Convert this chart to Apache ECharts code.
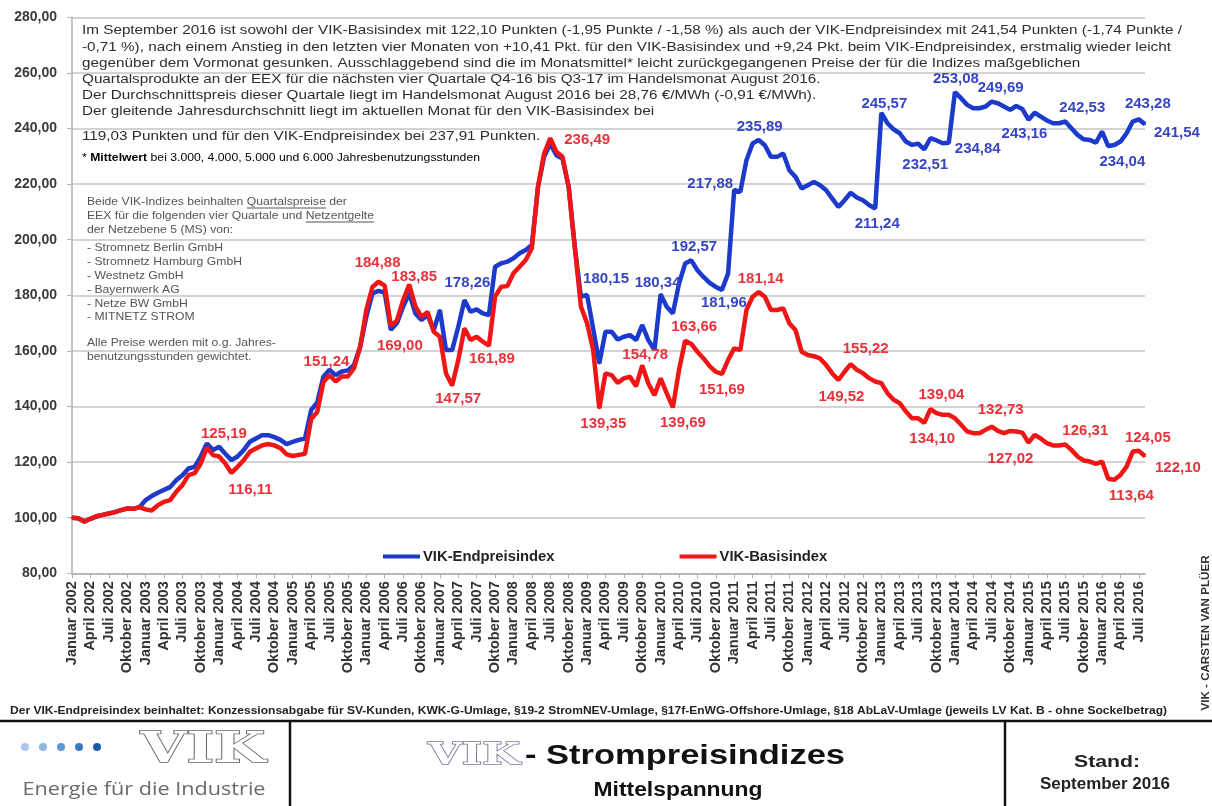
<!DOCTYPE html>
<html>
<head>
<meta charset="utf-8">
<script src="https://cdn.jsdelivr.net/npm/echarts@6/dist/echarts.min.js"></script>
<style>
html,body{margin:0;padding:0;background:#fff;}
#chart{width:1212px;height:806px;}
</style>
</head>
<body>
<div id="chart"></div>
<script>
// ---------- DATA ----------
const monthNames = ['Januar','Februar','März','April','Mai','Juni','Juli','August','September','Oktober','November','Dezember'];
const startYear = 2002;

const endpreisindex = [
100.0, 99.8, 98.6, 99.6, 100.5, 101.0, 101.5, 102.0, 102.7, 103.3, 103.2, 103.8,
106.3, 107.8, 109.0, 110.0, 111.0, 113.5, 115.3, 117.7, 118.3, 122.0, 126.7, 124.3,
125.5, 123.0, 120.7, 122.0, 124.3, 127.3, 128.5, 129.7, 129.7, 129.0, 128.0, 126.5,
127.3, 128.0, 128.5, 138.7, 141.5, 150.7, 153.2, 151.3, 152.6, 153.0, 155.0, 161.5,
172.3, 180.7, 181.6, 181.0, 167.6, 170.0, 175.9, 180.7, 173.5, 171.1, 172.9, 167.5,
174.7, 160.3, 160.3, 168.7, 178.26, 174.1, 174.9, 173.5, 172.9, 190.3, 191.5, 192.1,
193.3, 195.1, 196.3, 198.1, 219.0, 229.8, 234.6, 230.4, 229.2, 219.0, 197.5, 179.5,
180.15, 168.0, 155.5, 166.9, 166.9, 164.1, 165.1, 165.7, 163.9, 169.3, 163.9, 160.3,
180.34, 175.9, 173.5, 184.2, 191.4, 192.57, 189.0, 186.6, 184.5, 183.0, 181.96, 187.8,
217.88, 217.2, 228.6, 234.6, 235.89, 234.0, 229.8, 229.8, 231.0, 225.0, 222.6, 218.4,
219.6, 220.8, 219.6, 217.8, 214.8, 211.8, 214.2, 216.9, 215.2, 214.2, 212.5, 211.24,
245.57, 241.9, 239.7, 238.3, 235.3, 234.1, 234.5, 232.51, 236.5, 235.7, 234.7, 234.84,
253.08, 250.9, 248.5, 247.3, 247.3, 247.9, 249.69, 249.1, 247.9, 246.7, 248.1, 247.0,
243.16, 245.7, 244.3, 242.9, 241.9, 241.9, 242.53, 240.1, 237.7, 236.1, 235.9, 234.9,
238.9, 233.7, 234.04, 235.3, 238.3, 242.5, 243.28, 241.54
];

const basisindex = [
100.0, 99.8, 98.6, 99.6, 100.5, 101.0, 101.5, 102.0, 102.7, 103.3, 103.2, 103.8,
103.0, 102.6, 104.5, 105.7, 106.3, 109.3, 111.7, 115.3, 116.0, 119.5, 125.19, 122.5,
122.0, 119.5, 116.11, 118.3, 120.7, 123.7, 124.9, 126.0, 126.5, 126.0, 125.0, 122.8,
122.2, 122.6, 123.0, 135.5, 138.0, 148.8, 151.24, 149.0, 150.8, 150.8, 153.8, 161.5,
174.7, 183.0, 184.88, 183.5, 169.0, 171.0, 178.3, 183.85, 176.0, 172.3, 174.0, 166.9,
165.1, 151.9, 147.57, 156.7, 168.1, 163.9, 165.1, 163.3, 161.89, 179.5, 183.1, 183.3,
187.9, 190.3, 192.7, 196.9, 219.0, 231.0, 236.49, 231.6, 229.8, 219.0, 197.5, 176.0,
170.0, 160.3, 139.35, 151.9, 151.3, 148.5, 150.1, 150.7, 147.3, 154.78, 148.3, 144.1,
150.1, 144.7, 139.69, 153.1, 163.66, 162.5, 159.7, 157.3, 154.5, 152.5, 151.69, 156.7,
160.9, 160.3, 174.7, 179.5, 181.14, 179.5, 174.7, 174.7, 175.3, 169.9, 167.5, 159.7,
158.5, 158.1, 157.3, 154.9, 151.9, 149.52, 152.5, 155.22, 153.2, 152.0, 150.2, 149.0,
148.4, 144.8, 142.4, 141.2, 138.2, 135.8, 135.8, 134.10, 139.04, 137.6, 137.0, 137.0,
135.8, 133.4, 131.0, 130.4, 130.4, 131.6, 132.73, 131.2, 130.4, 131.2, 131.0, 130.6,
127.02, 129.8, 128.5, 126.8, 126.0, 126.0, 126.31, 124.4, 122.0, 120.6, 120.2, 119.4,
120.2, 114.0, 113.64, 115.4, 118.4, 123.8, 124.05, 122.10
];

const categories = endpreisindex.map((_, i) => monthNames[i % 12] + ' ' + (startYear + Math.floor(i / 12)));

const yMin = 80, yMax = 280, yStep = 20;

// labelled points: [index, position, dx, dy]
const endLabelSpec = [
  [64,'top',3,-4],[84,'top',19,-3],[96,'top',-3,2],[101,'top',3,0],[106,'bottom',2,0],
  [108,'left',5,-6],[112,'top',1,0],[131,'bottom',2,2],[132,'top',3,4],[139,'bottom',1,2],
  [143,'right',0,6],[144,'top',1,0],[150,'top',9,0],[156,'bottom',-4,1],[162,'top',17,0],
  [170,'bottom',8,3],[174,'top',9,-2],[175,'right',3,9]
];
const basisLabelSpec = [
  [22,'top',17,0],[26,'bottom',19,3],[42,'top',-3,0],[50,'top',-1,-5],[52,'bottom',9,6],
  [55,'top',5,6],[62,'bottom',6,0],[68,'bottom',3,0],[78,'right',8,2],[86,'bottom',4,2],
  [93,'top',3,3],[98,'bottom',10,2],[100,'top',9,0],[106,'bottom',0,2],[112,'top',2,0],
  [125,'bottom',3,3],[127,'top',15,-2],[139,'bottom',8,2],[140,'top',11,-1],[150,'top',9,-3],
  [156,'bottom',-18,3],[162,'top',20,0],[170,'bottom',17,3],[174,'top',9,1],[175,'right',4,12]
];

// ---------- STYLE ----------
const FONT = '"Liberation Sans", Arial, Helvetica, sans-serif';
const BLUE = '#1c3acb';
const RED = '#f01616';
const BLUE_LBL = '#3646c2';
const RED_LBL = '#e8323a';

const fmt = v => Number(v).toFixed(2).replace('.', ',');

const mctx = document.createElement('canvas').getContext('2d');
function textW(text, weight, size, family) {
  mctx.font = weight + ' ' + size + 'px ' + (family || FONT);
  return mctx.measureText(text).width;
}

function buildData(values, spec, color) {
  const map = {};
  spec.forEach(s => { map[s[0]] = s; });
  return values.map((v, i) => {
    const s = map[i];
    if (!s) return v;
    return {
      value: v,
      label: {
        show: true, position: s[1], offset: [s[2], s[3]],
        formatter: p => fmt(p.value), color: color,
        fontFamily: FONT, fontWeight: 'bold', fontSize: 15
      }
    };
  });
}

const graphics = [];
// text stretched horizontally to a target width
function addText(text, x, y, weight, size, target, fill, align, family, extra) {
  const w = textW(text, weight, size, family);
  const el = {
    type: 'text', x: x, y: y, silent: true,
    scaleX: target ? target / w : 1,
    style: Object.assign({ text: text, font: weight + ' ' + size + 'px ' + (family || FONT), fill: fill,
      textAlign: align || 'left', textVerticalAlign: 'middle' }, extra || {})
  };
  graphics.push(el);
  return el;
}

// ---------- TEXT BLOCKS ----------
const topLines = [
  'Im September 2016 ist sowohl der VIK-Basisindex mit 122,10 Punkten (-1,95 Punkte / -1,58 %) als auch der VIK-Endpreisindex mit 241,54 Punkten (-1,74 Punkte /',
  '-0,71 %), nach einem Anstieg in den letzten vier Monaten von +10,41 Pkt. für den VIK-Basisindex und +9,24 Pkt. beim VIK-Endpreisindex, erstmalig wieder leicht',
  'gegenüber dem Vormonat gesunken. Ausschlaggebend sind die im Monatsmittel* leicht zurückgegangenen Preise der für die Indizes maßgeblichen',
  'Quartalsprodukte an der EEX für die nächsten vier Quartale Q4-16 bis Q3-17 im Handelsmonat August 2016.',
  'Der Durchschnittspreis dieser Quartale liegt im Handelsmonat August 2016 bei 28,76 €/MWh (-0,91 €/MWh).',
  'Der gleitende Jahresdurchschnitt liegt im aktuellen Monat für den VIK-Basisindex bei',
  '119,03 Punkten und für den VIK-Endpreisindex bei 237,91 Punkten.'
];
const topY = [30, 47, 63, 79, 95, 111, 136];
const TOP_SIZE = 13;
const topScale = 1100 / textW(topLines[0], 'normal', TOP_SIZE);
topLines.forEach((t, i) => {
  const el = addText(t, 82, topY[i], 'normal', TOP_SIZE, null, '#2e2e2e');
  el.scaleX = topScale;
});

// footnote with bold part
const NOTE_SIZE = 10;
const noteW = textW('* ', 'normal', NOTE_SIZE) + textW('Mittelwert', 'bold', NOTE_SIZE) +
  textW(' bei 3.000, 4.000, 5.000 und 6.000 Jahresbenutzungsstunden', 'normal', NOTE_SIZE);
graphics.push({
  type: 'text', x: 82, y: 158, silent: true, scaleX: 398 / noteW,
  style: {
    text: '{n|* }{b|Mittelwert}{n| bei 3.000, 4.000, 5.000 und 6.000 Jahresbenutzungsstunden}',
    textVerticalAlign: 'middle',
    rich: {
      n: { fontFamily: FONT, fontSize: NOTE_SIZE, color: '#444' },
      b: { fontFamily: FONT, fontSize: NOTE_SIZE, fontWeight: 'bold', color: '#333' }
    }
  }
});

const boxLines = [
  'Beide VIK-Indizes beinhalten Quartalspreise der',
  'EEX für die folgenden vier Quartale und Netzentgelte',
  'der Netzebene 5 (MS) von:',
  '- Stromnetz Berlin GmbH',
  '- Stromnetz Hamburg GmbH',
  '- Westnetz GmbH',
  '- Bayernwerk AG',
  '- Netze BW GmbH',
  '- MITNETZ STROM',
  'Alle Preise werden mit o.g. Jahres-',
  'benutzungsstunden gewichtet.'
];
const boxY = [202, 216, 230, 248, 262, 276, 290, 304, 317, 343, 357];
const BOX_SIZE = 11.5;
const boxScale = 287 / textW(boxLines[1], 'normal', BOX_SIZE);
boxLines.forEach((t, i) => {
  const el = addText(t, 87, boxY[i], 'normal', BOX_SIZE, null, '#555');
  el.scaleX = boxScale;
});
// underlines for "Quartalspreise" and "Netzentgelte"
(function () {
  const u1s = 87 + boxScale * textW('Beide VIK-Indizes beinhalten ', 'normal', BOX_SIZE);
  const u1e = u1s + boxScale * textW('Quartalspreise', 'normal', BOX_SIZE);
  const u2s = 87 + boxScale * textW('EEX für die folgenden vier Quartale und ', 'normal', BOX_SIZE);
  const u2e = u2s + boxScale * textW('Netzentgelte', 'normal', BOX_SIZE);
  graphics.push({ type: 'line', silent: true, shape: { x1: u1s, y1: boxY[0] + 6, x2: u1e, y2: boxY[0] + 6 }, style: { stroke: '#555', lineWidth: 1 } });
  graphics.push({ type: 'line', silent: true, shape: { x1: u2s, y1: boxY[1] + 6, x2: u2e, y2: boxY[1] + 6 }, style: { stroke: '#555', lineWidth: 1 } });
})();

// footer
const footText = 'Der VIK-Endpreisindex beinhaltet: Konzessionsabgabe für SV-Kunden, KWK-G-Umlage, §19-2 StromNEV-Umlage, §17f-EnWG-Offshore-Umlage, §18 AbLaV-Umlage (jeweils LV Kat. B - ohne Sockelbetrag)';
addText(footText, 10, 711, 'bold', 10, 1157, '#222');
graphics.push({ type: 'line', silent: true, shape: { x1: 0, y1: 721, x2: 1212, y2: 721 }, style: { stroke: '#111', lineWidth: 2.5 } });
graphics.push({ type: 'line', silent: true, shape: { x1: 290, y1: 721, x2: 290, y2: 806 }, style: { stroke: '#111', lineWidth: 2.5 } });
graphics.push({ type: 'line', silent: true, shape: { x1: 1005, y1: 721, x2: 1005, y2: 806 }, style: { stroke: '#111', lineWidth: 2.5 } });
// vertical credit
(function () {
  const t = 'VIK - CARSTEN VAN PLÜER';
  const s = 10;
  graphics.push({ type: 'text', x: 1206, y: 633, rotation: Math.PI / 2, silent: true,
    scaleX: 155 / textW(t, 'bold', s),
    style: { text: t, font: 'bold ' + s + 'px ' + FONT, fill: '#333', textAlign: 'center', textVerticalAlign: 'middle' } });
})();

// logo: dots
const dotColors = ['#a9c9e9', '#8cb6e0', '#5f97d2', '#3a78c0', '#1d5aa8'];
dotColors.forEach((c, i) => graphics.push({ type: 'circle', silent: true, shape: { cx: 25 + i * 18, cy: 747, r: 4 }, style: { fill: c } }));
addText('VIK', 203, 751, 'bold', 42, 125, '#fff', 'center', '"DejaVu Serif", serif', { stroke: '#666', lineWidth: 1.5 });
addText('Energie für die Industrie', 144, 790, 'normal', 19, 243, '#6a6a6a', 'center', '"Open Sans", ' + FONT);
// center title
addText('VIK', 474, 756, 'bold', 30, 92, '#fff', 'center', '"DejaVu Serif", serif', { stroke: '#7a7a9a', lineWidth: 1.4 });
addText('- Strompreisindizes', 525, 756, 'bold', 28, 320, '#111');
addText('Mittelspannung', 678, 790, 'bold', 20, 169, '#111', 'center');
// stand
addText('Stand:', 1107, 763, 'bold', 16, 66, '#222', 'center');
addText('September 2016', 1105, 785, 'bold', 16, 130, '#222', 'center');

// ---------- CHART ----------
const chart = echarts.init(document.getElementById('chart'), null, { renderer: 'canvas' });
chart.setOption({
  backgroundColor: '#fff',
  animation: false,
  grid: { left: 72, right: 67, top: 17.3, bottom: 232.7, containLabel: false },
  legend: {
    left: 378, top: 544, itemGap: 125, itemWidth: 37, itemHeight: 4, icon: 'rect',
    textStyle: { fontFamily: FONT, fontWeight: 'bold', fontSize: 14.8, color: '#222', padding: [0, 0, 0, -2] },
    data: [
      { name: 'VIK-Endpreisindex', itemStyle: { color: BLUE } },
      { name: 'VIK-Basisindex', itemStyle: { color: RED } }
    ]
  },
  xAxis: {
    type: 'category', data: categories, boundaryGap: false,
    axisLine: { lineStyle: { color: '#b0b0b0', width: 1.5 } },
    axisTick: { show: true, interval: 2, length: 5, lineStyle: { color: '#b0b0b0' } },
    axisLabel: { interval: 2, rotate: 90, margin: 8, fontFamily: FONT, fontWeight: 'bold', fontSize: 14.5, color: '#333' },
    splitLine: { show: false }
  },
  yAxis: {
    type: 'value', min: yMin, max: yMax, interval: yStep,
    axisLine: { show: true, lineStyle: { color: '#b0b0b0', width: 1.5 } },
    axisTick: { show: true, length: 5, lineStyle: { color: '#b0b0b0' } },
    axisLabel: { formatter: v => fmt(v), margin: 15, fontFamily: FONT, fontWeight: 'bold', fontSize: 14, color: '#3a3a3a' },
    splitLine: { lineStyle: { color: '#c4c4c4', width: 1.5 } }
  },
  series: [
    {
      name: 'VIK-Endpreisindex', type: 'line', data: buildData(endpreisindex, endLabelSpec, BLUE_LBL),
      symbol: 'circle', symbolSize: 2, showSymbol: true, showAllSymbol: true,
      itemStyle: { color: BLUE }, lineStyle: { color: BLUE, width: 4.5 }, z: 3
    },
    {
      name: 'VIK-Basisindex', type: 'line', data: buildData(basisindex, basisLabelSpec, RED_LBL),
      symbol: 'circle', symbolSize: 2, showSymbol: true, showAllSymbol: true,
      itemStyle: { color: RED }, lineStyle: { color: RED, width: 4.5 }, z: 4
    }
  ],
  graphic: graphics
});
</script>
</body>
</html>
